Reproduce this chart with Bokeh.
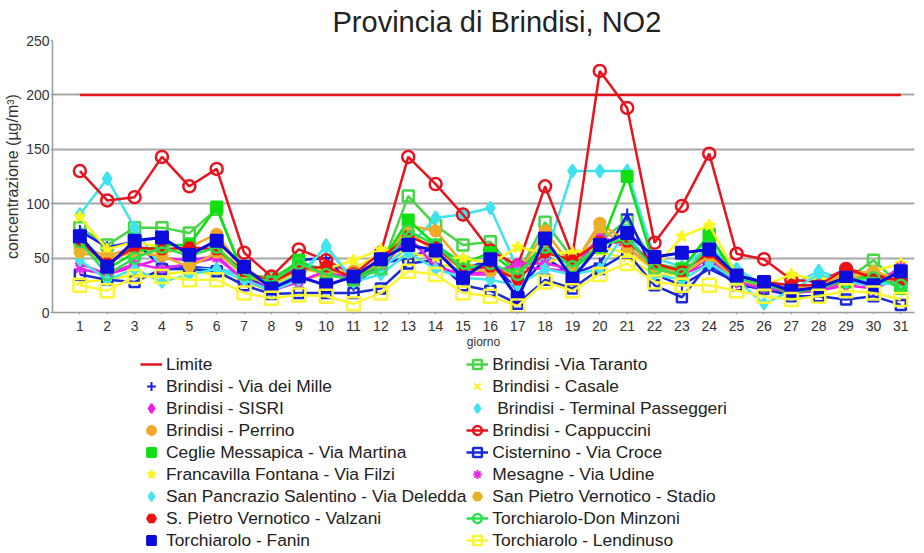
from bokeh.plotting import figure
from bokeh.models import Range1d, FixedTicker, Legend, LegendItem
from bokeh.layouts import column
from bokeh.embed import file_html
from bokeh.resources import INLINE

days = list(range(1, 32))
y_ticks = [0, 50, 100, 150, 200, 250]

limite = [200, 200, 200, 200, 200, 200, 200, 200, 200, 200, 200, 200, 200, 200, 200, 200,
          200, 200, 200, 200, 200, 200, 200, 200, 200, 200, 200, 200, 200, 200, 200]
via_taranto = [78, 62, 78, 78, 73, 95, 35, 32, 45, 40, 35, 40, 107, 80, 62, 65, 35, 83, 50, 65, 85, 45, 40, 70, 35, 25, 20, 25, 30, 48, 25]
via_mille = [75, 60, 65, 42, 42, 40, 35, 20, 48, 50, 25, 45, 50, 60, 40, 48, 20, 50, 35, 45, 90, 35, 25, 40, 28, 25, 20, 22, 28, 25, 38]
casale = [28, 30, 35, 35, 38, 35, 28, 20, 30, 35, 40, 55, 50, 45, 40, 35, 45, 45, 55, 55, 50, 35, 35, 50, 30, 20, 22, 22, 25, 28, 30]
sisri = [45, 35, 42, 50, 48, 52, 30, 22, 28, 38, 30, 42, 70, 42, 35, 38, 42, 40, 38, 70, 60, 40, 35, 45, 28, 20, 18, 20, 25, 22, 32]
terminal = [90, 123, 78, 40, 40, 40, 35, 25, 35, 60, 30, 40, 60, 87, 90, 96, 40, 50, 130, 130, 130, 50, 42, 60, 40, 25, 25, 38, 30, 28, 25]
perrino = [60, 52, 60, 55, 60, 72, 38, 25, 42, 35, 38, 45, 80, 75, 45, 40, 35, 75, 42, 82, 65, 42, 38, 55, 30, 25, 22, 25, 32, 35, 28]
cappuccini = [130, 103, 106, 143, 116, 132, 55, 33, 58, 48, 35, 55, 143, 118, 90, 57, 43, 116, 52, 222, 188, 64, 98, 146, 54, 49, 30, 28, 40, 35, 30]
ceglie = [68, 40, 55, 62, 62, 97, 32, 28, 48, 35, 30, 45, 85, 62, 45, 55, 35, 65, 40, 60, 125, 42, 40, 72, 30, 22, 18, 22, 28, 35, 22]
cisternino = [35, 30, 28, 40, 40, 38, 25, 17, 18, 18, 18, 22, 45, 48, 25, 20, 8, 30, 22, 40, 55, 25, 14, 45, 25, 22, 15, 15, 12, 15, 7]
francavilla = [88, 58, 65, 60, 55, 62, 35, 25, 38, 40, 48, 58, 55, 50, 50, 45, 60, 55, 55, 60, 55, 40, 70, 80, 35, 25, 35, 30, 35, 38, 45]
mesagne = [40, 35, 45, 40, 45, 50, 30, 20, 28, 38, 30, 40, 70, 42, 35, 35, 45, 45, 40, 70, 60, 40, 35, 50, 28, 22, 20, 22, 28, 25, 42]
san_pancrazio = [48, 30, 40, 28, 35, 40, 30, 20, 30, 62, 28, 35, 55, 40, 32, 30, 25, 40, 35, 40, 75, 35, 30, 45, 30, 8, 20, 35, 28, 25, 28]
spv_stadio = [55, 50, 55, 52, 42, 55, 35, 25, 40, 38, 35, 45, 75, 55, 40, 38, 35, 60, 42, 78, 60, 40, 35, 52, 30, 25, 22, 25, 35, 38, 30]
valzani = [65, 45, 60, 58, 60, 58, 38, 28, 40, 42, 32, 50, 70, 60, 40, 42, 30, 55, 48, 65, 65, 45, 38, 55, 32, 28, 25, 25, 40, 32, 30]
don_minzoni = [65, 35, 50, 60, 52, 60, 35, 28, 45, 35, 30, 40, 75, 62, 40, 45, 35, 60, 42, 62, 68, 40, 35, 60, 32, 25, 20, 22, 30, 32, 25]
fanin = [70, 42, 66, 69, 53, 66, 42, 22, 33, 25, 33, 49, 62, 57, 32, 49, 13, 68, 31, 62, 73, 51, 55, 58, 34, 28, 20, 23, 32, 25, 38]
lendinuso = [25, 20, 33, 33, 30, 30, 18, 13, 16, 15, 8, 18, 38, 35, 18, 15, 6, 28, 20, 35, 45, 28, 25, 25, 20, 15, 12, 15, 20, 18, 12]

# (label, values, color, marker, filled, size)
series = [
    ("Limite", limite, "#e3141c", None, True, 0),
    ("Brindisi -Via Taranto", via_taranto, "#46d646", "square", False, 11),
    ("Brindisi - Via dei Mille", via_mille, "#1c1cf0", "cross", True, 12),
    ("Brindisi - Casale", casale, "#f6f21a", "x", True, 10),
    ("Brindisi - SISRI", sisri, "#f018f0", "diamond", True, 12),
    (" Brindisi - Terminal Passeggeri", terminal, "#3fe3ee", "diamond", True, 13),
    ("Brindisi - Perrino", perrino, "#f4a626", "circle", True, 11),
    ("Brindisi - Cappuccini", cappuccini, "#e5141e", "circle", False, 12),
    ("Ceglie Messapica - Via Martina", ceglie, "#10e010", "square", True, 11),
    ("Cisternino - Via Croce", cisternino, "#1a2ad8", "square", False, 10),
    ("Francavilla Fontana - Via Filzi", francavilla, "#fbf520", "star", True, 12),
    ("Mesagne - Via Udine", mesagne, "#e828e8", "asterisk", True, 11),
    ("San Pancrazio Salentino - Via Deledda", san_pancrazio, "#45e5ee", "diamond", True, 12),
    ("San Pietro Vernotico - Stadio", spv_stadio, "#e9b128", "hex", True, 11),
    ("S. Pietro Vernotico - Valzani", valzani, "#f01010", "hex", True, 11),
    ("Torchiarolo-Don Minzoni", don_minzoni, "#2ede4e", "circle", False, 11),
    ("Torchiarolo - Fanin", fanin, "#0c0cdc", "square", True, 12),
    ("Torchiarolo - Lendinuso", lendinuso, "#fbf53a", "square", False, 13),
]

FONT = "Liberation Sans"


def add_series(fig, label, vals, color, marker, filled, size, visible=True):
    lw = 3 if label == "Torchiarolo - Fanin" else 2.5
    line = fig.line(days, vals, line_color=color, line_width=lw, visible=visible)
    mark = None
    if marker is not None:
        if filled:
            mark = fig.scatter(days, vals, marker=marker, size=size, fill_color=color,
                               line_color=color, line_width=2, visible=visible)
        else:
            mark = fig.scatter(days, vals, marker=marker, size=size, fill_color=None,
                               line_color=color, line_width=2.5, visible=visible)
    return line, mark


# ---- main chart ----
p = figure(width=916, height=352, x_range=Range1d(0, 31.5), y_range=Range1d(0, 250),
           output_backend="svg", toolbar_location=None,
           title="Provincia di Brindisi, NO2",
           min_border_left=52, min_border_right=2, min_border_top=40,
           min_border_bottom=40)
p.title.align = "left"
p.title.offset = 280
p.title.text_font = FONT
p.title.text_font_size = "29px"
p.title.text_font_style = "normal"
p.title.text_color = "#222222"
p.title.standoff = 6
p.outline_line_color = None

p.xgrid.visible = False
p.ygrid.grid_line_color = "#a8a8a8"
p.ygrid.grid_line_width = 2
p.ygrid.ticker = FixedTicker(ticks=y_ticks)

p.yaxis.ticker = FixedTicker(ticks=y_ticks)
p.xaxis.ticker = FixedTicker(ticks=days)
for ax in (p.xaxis, p.yaxis):
    ax.axis_line_color = "#9a9a9a"
    ax.axis_line_width = 1.5
    ax.major_tick_line_color = "#9a9a9a"
    ax.major_tick_out = 2
    ax.major_tick_in = 0
    ax.minor_tick_line_color = None
    ax.major_label_text_font = FONT
    ax.major_label_text_font_size = "14px"
    ax.major_label_text_color = "#333333"
    ax.axis_label_text_font = FONT
    ax.axis_label_text_font_style = "normal"
    ax.axis_label_text_color = "#333333"
p.xaxis.axis_label = "giorno"
p.xaxis.axis_label_text_font_size = "12px"
p.xaxis.major_label_standoff = 6
p.xaxis.axis_label_standoff = 1
p.yaxis.axis_label = "concentrazione (µg/m³)"
p.yaxis.axis_label_text_font_size = "16px"
p.yaxis.major_label_standoff = 1
p.yaxis.axis_label_standoff = 2

for label, vals, color, marker, filled, size in series:
    add_series(p, label, vals, color, marker, filled, size)

# ---- legend panel (same series, hidden renderers used only for legend glyphs) ----
q = figure(width=916, height=199, x_range=Range1d(0, 1), y_range=Range1d(0, 1),
           output_backend="svg", toolbar_location=None,
           x_axis_location=None, y_axis_location=None,
           min_border_left=0, min_border_right=0, min_border_top=0, min_border_bottom=0)
q.grid.visible = False
q.outline_line_color = None

items = {}
for label, vals, color, marker, filled, size in series:
    line, mark = add_series(q, label, vals, color, marker, filled, size, visible=False)
    if mark is None:
        rs = [line]
    elif filled:
        rs = [mark]
    else:
        rs = [line, mark]
    items[label] = LegendItem(label=label, renderers=rs)

labels = [s[0] for s in series]
ordered = [items[l] for l in labels[0::2] + labels[1::2]]

legend = Legend(items=ordered, orientation="vertical", ncols=2, location=(88, 0),
                label_text_font=FONT, label_text_font_size="17.4px", label_text_color="#222222",
                glyph_width=22, glyph_height=22, label_standoff=4, spacing=0,
                label_height=22, padding=0, margin=0, border_line_color=None,
                background_fill_alpha=0)
q.add_layout(legend, "center")

layout = column(p, q, spacing=0)
open("out.html", "w").write(file_html(layout, INLINE))
